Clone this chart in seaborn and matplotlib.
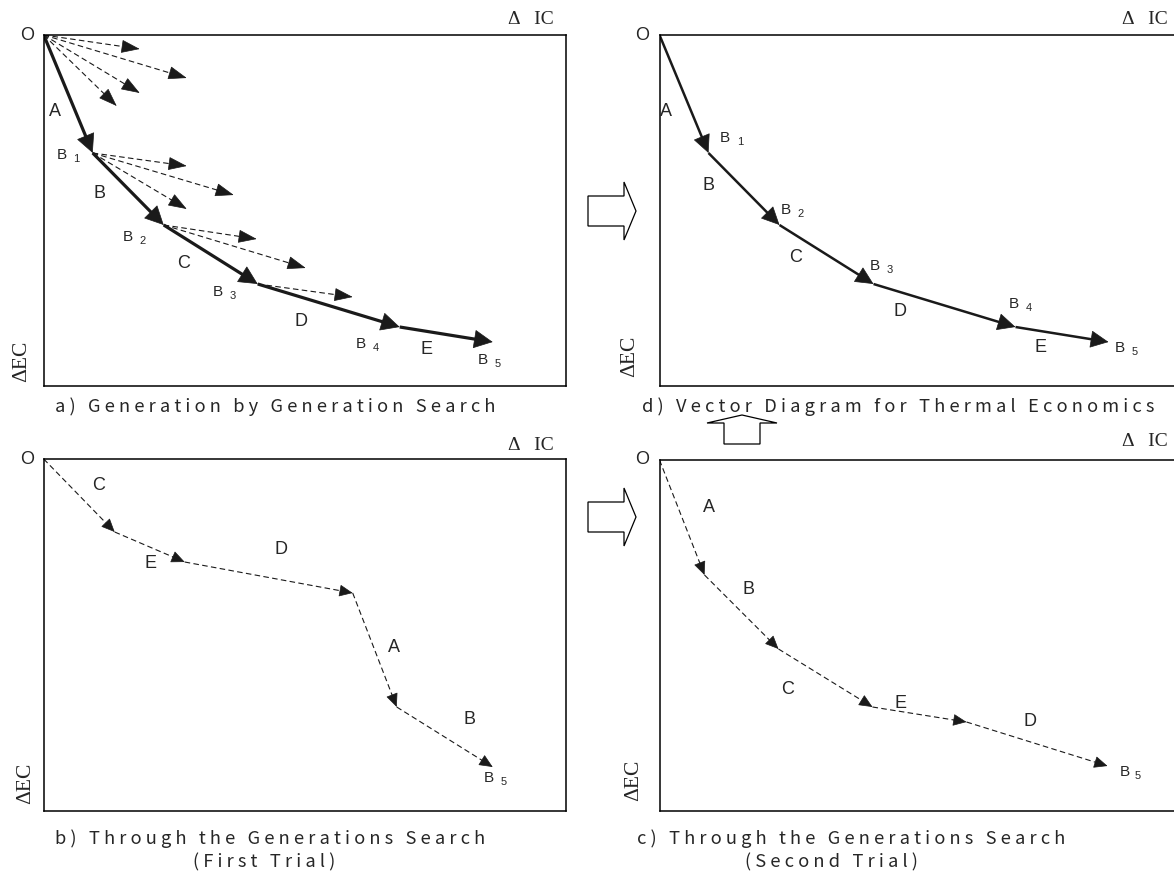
import numpy as np
import pandas as pd
import matplotlib
matplotlib.use("Agg")
import matplotlib.pyplot as plt
import matplotlib.patches as mpatches
import seaborn as sns

# ---- data (ΔIC to the right, ΔEC downward, measured from origin O) ----
# optimum path found generation by generation (panels a and d)
opt_nodes = ["O", "B1", "B2", "B3", "B4", "B5"]
opt_ic = [0, 49, 120, 214, 356, 449]
opt_ec = [0, 118, 190, 249, 292, 307]
opt_labels = ["A", "B", "C", "D", "E"]

# candidate vectors tried at each generation (panel a, dashed)
cand_from = ["O", "O", "O", "O", "B1", "B1", "B1", "B2", "B2", "B3"]
cand_ic = [96, 143, 96, 73, 143, 190, 143, 213, 262, 309]
cand_ec = [14, 43, 58, 71, 131, 160, 174, 204, 233, 262]

# through-the-generations search, first trial (panel b)
trial1_ic = [0, 71, 141, 309, 353, 449]
trial1_ec = [0, 73, 103, 134, 248, 308]
trial1_labels = ["C", "E", "D", "A", "B"]

# through-the-generations search, second trial (panel c)
trial2_ic = [0, 45, 119, 213, 307, 448]
trial2_ec = [0, 115, 189, 247, 262, 306]
trial2_labels = ["A", "B", "C", "E", "D"]

captions = ["a) Generation by Generation Search",
            "d) Vector Diagram for Thermal Economics",
            "b) Through the Generations Search",
            "c) Through the Generations Search"]
subcaptions = ["(First Trial)", "(Second Trial)"]

sns.set_theme(style="white")
plt.rcParams["font.family"] = ["Liberation Sans", "DejaVu Sans"]

W, H = 1174, 873
fig = plt.figure(figsize=(W / 100, H / 100), dpi=100)


def px_axes(left, top, width, height):
    ax = fig.add_axes([left / W, 1 - (top + height) / H, width / W, height / H])
    ax.set_xlim(0, width)
    ax.set_ylim(height, 0)
    ax.set_xticks([])
    ax.set_yticks([])
    for s in ax.spines.values():
        s.set_color("black")
        s.set_linewidth(1.1)
    return ax


def spread(s):
    return "   ".join(" ".join(w) for w in s.split(" "))


def vectors(ax, x0, y0, x1, y1, lw, ls, hl, hw):
    x0, y0, x1, y1 = map(np.asarray, (x0, y0, x1, y1))
    dx, dy = x1 - x0, y1 - y0
    n = np.hypot(dx, dy)
    hpx = hl * 10 * 100 / 72
    xb, yb = x1 - dx / n * hpx * 0.85, y1 - dy / n * hpx * 0.85
    df = pd.DataFrame({
        "seg": np.repeat(np.arange(len(x0)), 2),
        "ic": np.column_stack([x0, xb]).ravel(),
        "ec": np.column_stack([y0, yb]).ravel(),
    })
    sns.lineplot(data=df, x="ic", y="ec", units="seg", estimator=None, sort=False,
                 color="k", lw=lw, linestyle=ls, ax=ax, legend=False,
                 solid_capstyle="butt", dash_capstyle="butt")
    ax.set(xlabel="", ylabel="")
    for a, b, c, d in zip(xb, yb, x1, y1):
        ax.annotate("", xy=(c, d), xytext=(c - (c - a) / 0.85, d - (d - b) / 0.85),
                    arrowprops=dict(arrowstyle=f"-|>,head_length={hl},head_width={hw}",
                                    color="k", lw=0.5, shrinkA=0, shrinkB=0))


def axis_labels(ax, ic_xy, ec_xy):
    ax.text(*ic_xy, "Δ   IC", family=["Liberation Serif", "DejaVu Serif"], fontsize=14,
            ha="right", va="center", clip_on=False)
    ax.text(*ec_xy, "ΔEC", family=["Liberation Serif", "DejaVu Serif"], fontsize=15.5,
            rotation=90, ha="center", va="center", clip_on=False)
    ax.text(-17, 0, "O", fontsize=13, ha="center", va="center", clip_on=False)


def letters(ax, labels, pos, size=13):
    for t, (x, y) in zip(labels, pos):
        ax.text(x, y, t, fontsize=size, ha="center", va="center")


def bnode(ax, k, x, y, dx=15, dy=4):
    ax.text(x, y, "B", fontsize=11, ha="center", va="center")
    ax.text(x + dx, y + dy, str(k), fontsize=8, ha="center", va="center")


node_ic = dict(zip(opt_nodes, opt_ic))
node_ec = dict(zip(opt_nodes, opt_ec))
dash = (0, (5, 3))

# ---- a) generation by generation search ----
ax_a = px_axes(43.7, 35, 522.3, 351)
vectors(ax_a, [node_ic[n] for n in cand_from], [node_ec[n] for n in cand_from],
        cand_ic, cand_ec, 0.8, dash, 1.0, 0.36)
vectors(ax_a, opt_ic[:-1], opt_ec[:-1], opt_ic[1:], opt_ec[1:], 2.3, "-", 1.05, 0.52)
letters(ax_a, opt_labels, [(11, 77), (56, 158), (140, 228), (257, 286), (383, 314)])
for k, (x, y) in enumerate([(18, 120), (84, 202), (174, 257), (317, 309), (439, 325)], 1):
    bnode(ax_a, k, x, y)
axis_labels(ax_a, (510, -15), (-22, 326))

# ---- d) vector diagram for thermal economics ----
ax_d = px_axes(659.5, 35, 522, 351)
vectors(ax_d, opt_ic[:-1], opt_ec[:-1], opt_ic[1:], opt_ec[1:], 1.8, "-", 1.0, 0.48)
letters(ax_d, opt_labels, [(6.5, 77), (48.5, 150), (136.5, 223), (240.5, 276), (380.5, 312)])
for k, (x, y) in enumerate([(65.5, 103), (126.5, 175), (215.5, 231), (354.5, 269), (460.5, 313)], 1):
    bnode(ax_d, k, x, y)
axis_labels(ax_d, (508, -15), (-30, 321))

# ---- b) through the generations search, first trial ----
ax_b = px_axes(43.7, 459, 522.3, 352)
vectors(ax_b, trial1_ic[:-1], trial1_ec[:-1], trial1_ic[1:], trial1_ec[1:], 0.8, dash, 0.72, 0.32)
letters(ax_b, trial1_labels, [(55, 26), (107, 104), (237, 90), (350, 188), (426, 261)])
bnode(ax_b, 5, 445, 319)
axis_labels(ax_b, (510, -14), (-18, 324))

# ---- c) through the generations search, second trial ----
ax_c = px_axes(659.5, 460, 522, 351)
vectors(ax_c, trial2_ic[:-1], trial2_ec[:-1], trial2_ic[1:], trial2_ec[1:], 0.8, dash, 0.72, 0.32)
letters(ax_c, trial2_labels, [(49.5, 47), (89.5, 130), (128.5, 230), (240.5, 243), (370.5, 262)])
bnode(ax_c, 5, 465.5, 312, dx=13)
axis_labels(ax_c, (508, -18), (-26, 320))

# ---- captions ----
cap_font = ["Noto Sans CJK JP", "DejaVu Sans"]
for s, (x, y) in zip(captions, [(55, 407), (642, 407), (55, 839), (637, 839)]):
    fig.text(x / W, 1 - y / H, spread(s), family=cap_font, fontsize=13.2,
             ha="left", va="center")
for s, (x, y) in zip(subcaptions, [(193, 862), (745, 862)]):
    fig.text(x / W, 1 - y / H, spread(s), family=cap_font, fontsize=13.2,
             ha="left", va="center")

# ---- hollow block arrows between panels ----
def block(points):
    pts = [(x / W, 1 - y / H) for x, y in points]
    fig.patches.append(mpatches.Polygon(pts, closed=True, transform=fig.transFigure,
                                        facecolor="white", edgecolor="black", lw=0.9))


for yc in (211, 517):
    block([(588, yc - 15), (624, yc - 15), (624, yc - 29), (636, yc),
           (624, yc + 29), (624, yc + 15), (588, yc + 15)])
block([(724, 444), (724, 423), (707, 423), (742, 415), (777, 423), (760, 423), (760, 444)])

fig.savefig("out.png", dpi=100)
